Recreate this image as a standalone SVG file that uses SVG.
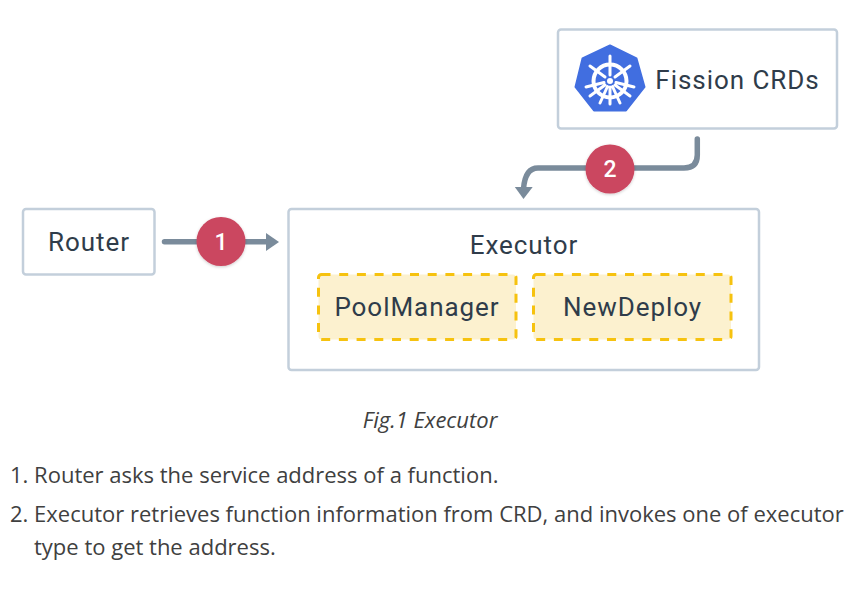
<svg xmlns="http://www.w3.org/2000/svg" width="859" height="589" viewBox="0 0 859 589">
<defs>
<style>
.box{fill:#fff;stroke:#c3cfdb;stroke-width:2.5}
.dash{fill:#fcf1cf;stroke:#f6c20f;stroke-width:3;stroke-dasharray:9 8.7}
.lbl{font-family:"Roboto",sans-serif;font-size:26px;fill:#2f3c4a;text-anchor:middle;letter-spacing:.95px}
.num{font-family:"Roboto",sans-serif;font-size:23px;font-weight:500;fill:#fff;text-anchor:middle}
.badge{fill:#cb4760;filter:url(#s)}
.conn{fill:none;stroke:#7a8b9b;stroke-width:5.500;stroke-linecap:round}
.head{fill:#7a8b9b}
.body{font-family:"Open Sans",sans-serif;font-size:22px;fill:#404040}
.spoke{stroke:#fff;stroke-width:3;stroke-linecap:round;fill:none}
</style>
<filter id="s" x="-20%" y="-20%" width="140%" height="140%"><feDropShadow dx="0" dy="1" stdDeviation="1.5" flood-color="#000" flood-opacity=".2"/></filter>
</defs>
<rect width="859" height="589" fill="#fff"/>
<g id="connectors">
<path class="conn" d="M164.500 241.700H268"/>
<path class="head" d="M279 242L266 233V251Z"/>
<path class="conn" d="M697.300 139V155Q697.300 168 684 168H538Q525 168 523.500 189"/>
<path class="head" d="M523.500 199L514.800 187H532.700Z"/>
</g>
<g id="fission-crds">
<rect class="box" x="558" y="29.500" width="279" height="99" rx="3"/>
<path d="M610 45.500L636.500 58.500L644.500 87L626 110.500H594L575.500 87L582.500 58.500Z" fill="#416ee0" stroke="#416ee0" stroke-width="2" stroke-linejoin="round"/>
<circle cx="610" cy="81" r="16.500" fill="none" stroke="#fff" stroke-width="4"/>
<circle cx="610" cy="81" r="3" fill="#fff"/>
<path class="spoke" d="M610 56V75M610 87V104M590 66L605 77M615 85L630 96M630 66L615 77M605 85L590 96M586 87L604 82.500M616 82.500L634 87M600 103L607.500 86.500M620 103L612.500 86.500"/>
<text class="lbl" x="737.500" y="88.500">Fission CRDs</text>
</g>
<g id="router">
<rect class="box" x="23" y="209" width="131.500" height="65.500" rx="3"/>
<text class="lbl" x="89" y="250.500">Router</text>
</g>
<g id="executor">
<rect class="box" x="288.500" y="209" width="470.500" height="161" rx="3"/>
<text class="lbl" x="524" y="254">Executor</text>
</g>
<g id="pool-manager">
<rect class="dash" x="318.500" y="274.500" width="197.500" height="65" rx="3"/>
<text class="lbl" x="417" y="316">PoolManager</text>
</g>
<g id="new-deploy">
<rect class="dash" x="533.500" y="274.500" width="197.500" height="65" rx="3"/>
<text class="lbl" x="632.500" y="316">NewDeploy</text>
</g>
<g id="badge-1">
<circle class="badge" cx="221" cy="241.500" r="24.500"/>
<text class="num" x="221" y="249.500">1</text>
</g>
<g id="badge-2">
<circle class="badge" cx="610" cy="169" r="24.500"/>
<text class="num" x="610" y="177">2</text>
</g>
<text x="430" y="427.500" font-family="'Open Sans',sans-serif" font-size="22" font-style="italic" fill="#404040" text-anchor="middle">Fig.1 Executor</text>
<text class="body" x="10" y="482.500">1. Router asks the service address of a function.</text>
<text class="body" x="10" y="521.500">2. Executor retrieves function information from CRD, and invokes one of executor</text>
<text class="body" x="34" y="554.500">type to get the address.</text>
</svg>
